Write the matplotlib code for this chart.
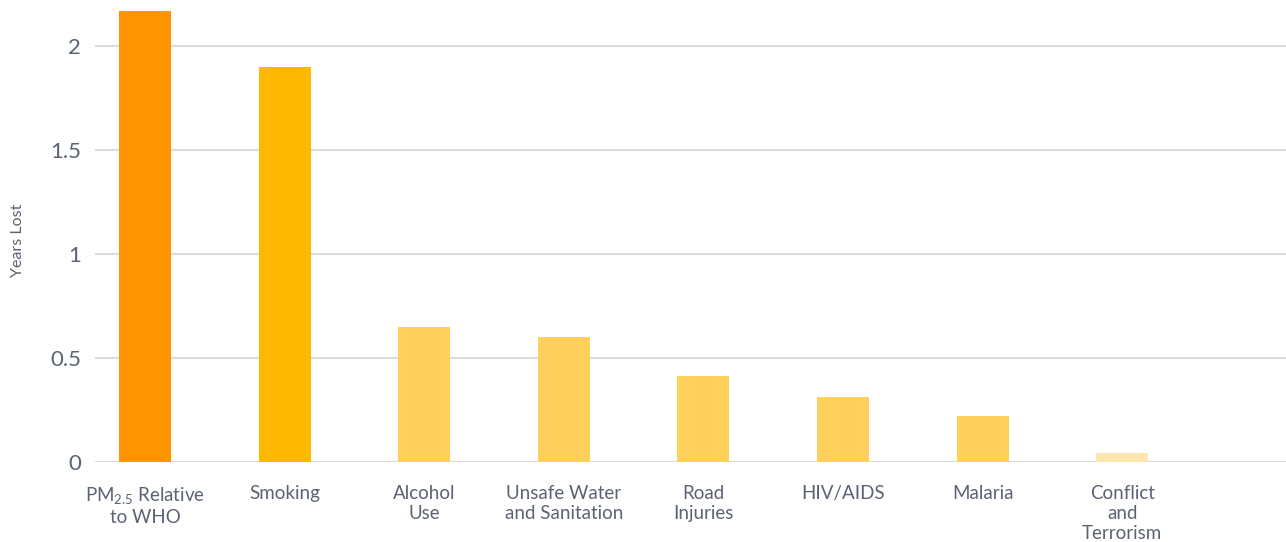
import numpy as np
import matplotlib.pyplot as plt

# Life expectancy impact by cause
categories = ['PM$_{2.5}$ Relative\nto WHO', 'Smoking', 'Alcohol\nUse',
              'Unsafe Water\nand Sanitation', 'Road\nInjuries', 'HIV/AIDS',
              'Malaria', 'Conflict\nand\nTerrorism']
years_lost = [2.17, 1.9, 0.65, 0.6, 0.41, 0.31, 0.22, 0.04]
yticks = [0, 0.5, 1, 1.5, 2]
ytick_labels = ['0', '0.5', '1', '1.5', '2']

bar_colors = ['#FF9400', '#FFB800', '#FFD15C', '#FFD15C',
              '#FFD15C', '#FFD15C', '#FFD15C', '#FFE5AE']
text_color = '#5B6372'
grid_color = '#DCDCDC'

plt.rcParams['font.family'] = ['Lato', 'DejaVu Sans']
plt.rcParams['mathtext.fontset'] = 'custom'
plt.rcParams['mathtext.rm'] = 'Lato'
plt.rcParams['mathtext.it'] = 'Lato:italic'
plt.rcParams['mathtext.bf'] = 'Lato:bold'

fig = plt.figure(figsize=(12.86, 5.42), dpi=100)
ax = fig.add_axes([95 / 1286, 80.5 / 542, 1 - 95 / 1286, 461.5 / 542])

x = np.arange(len(categories))
ax.bar(x, years_lost, width=0.372, color=bar_colors, zorder=3)

ax.set_xlim(-0.358, 8.173)
ax.set_ylim(0, 2.224)

ax.set_yticks(yticks)
ax.set_yticklabels(ytick_labels)
ax.set_xticks(x)
ax.set_xticklabels(categories, linespacing=1.2)

ax.grid(axis='y', color=grid_color, linewidth=1.5, zorder=0)
ax.grid(axis='x', visible=False)
for s in ax.spines.values():
    s.set_visible(False)

ax.tick_params(axis='y', length=0, pad=10, labelsize=16, labelcolor=text_color)
ax.tick_params(axis='x', length=0, pad=17, labelsize=13.5, labelcolor=text_color)

fig.text(18 / 1286, 1 - 240 / 542, 'Years Lost', rotation=90, ha='center',
         va='center', fontsize=11.5, color=text_color)

fig.savefig('out.png', dpi=100)
